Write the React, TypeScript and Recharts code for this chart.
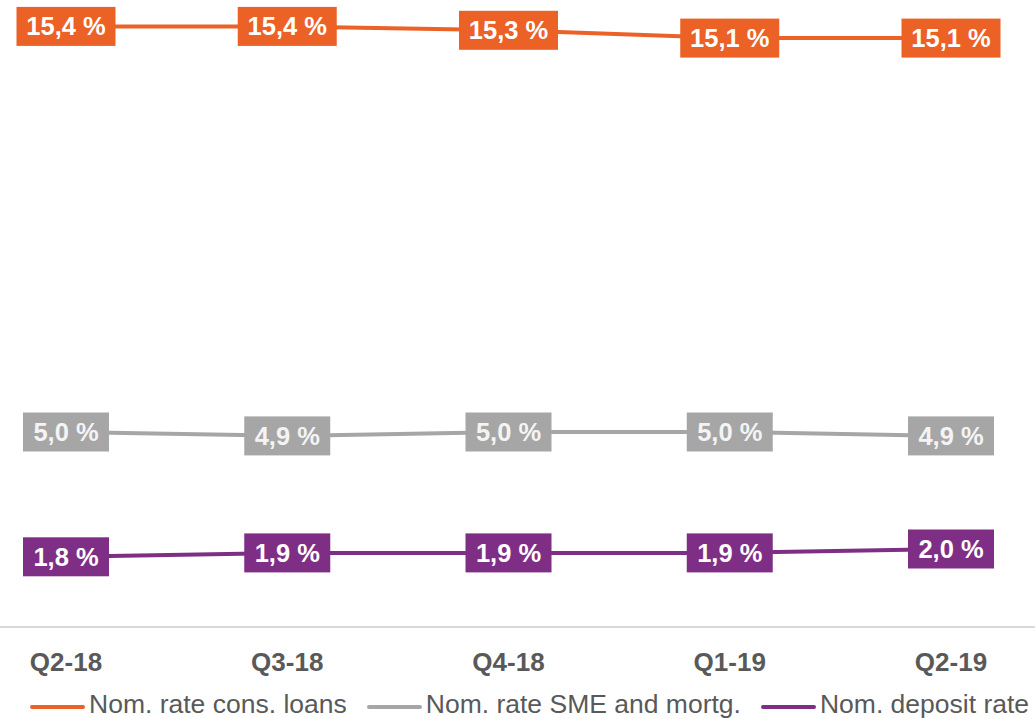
import React from 'react';
import { LineChart, Line, XAxis, YAxis, Legend, LabelList } from 'recharts';

const quarters = ['Q2-18', 'Q3-18', 'Q4-18', 'Q1-19', 'Q2-19'];
const consLoans = [15.4, 15.4, 15.3, 15.1, 15.1];
const smeMortg = [5.0, 4.9, 5.0, 5.0, 4.9];
const depositRate = [1.8, 1.9, 1.9, 1.9, 2.0];

const chartData = quarters.map((q, i) => ({
  quarter: q,
  cons: consLoans[i],
  sme: smeMortg[i],
  deposit: depositRate[i],
}));

const series = [
  { key: 'cons', name: 'Nom. rate cons. loans', color: '#EB6126', text: '#ffffff' },
  { key: 'sme', name: 'Nom. rate SME and mortg.', color: '#A6A6A6', text: '#f4f4f4' },
  { key: 'deposit', name: 'Nom. deposit rate', color: '#7E2F85', text: '#ffffff' },
];

const FONT = '"Liberation Sans", Arial, sans-serif';

const fmt = (v: number) => `${v.toFixed(1).replace('.', ',')} %`;

const makeBoxLabel = (fill: string, textColor: string) => (props: any) => {
  const { x, y, value } = props;
  const text = fmt(Number(value));
  const w = text.length * 13 + 21;
  const h = 39;
  return (
    <g>
      <rect x={x - w / 2} y={y - h / 2} width={w} height={h} fill={fill} />
      <text
        x={x}
        y={y}
        dy={9}
        textAnchor="middle"
        fill={textColor}
        fontSize={25.5}
        fontWeight="bold"
        fontFamily={FONT}
      >
        {text}
      </text>
    </g>
  );
};

const renderLegend = () => (
  <div
    style={{
      display: 'flex',
      alignItems: 'center',
      paddingLeft: 30,
      paddingTop: 8,
      height: 36,
      boxSizing: 'border-box',
      fontFamily: FONT,
      fontSize: 26.5,
      color: '#595959',
      whiteSpace: 'nowrap',
    }}
  >
    {series.map((s) => (
      <div key={s.key} style={{ display: 'flex', alignItems: 'center', marginRight: 20 }}>
        <span
          style={{
            display: 'inline-block',
            width: 55,
            height: 4,
            borderRadius: 2,
            background: s.color,
            marginTop: 6,
            marginRight: 4,
          }}
        />
        <span>{s.name}</span>
      </div>
    ))}
  </div>
);

export default function App() {
  return (
    <div style={{ position: 'absolute', left: 0, top: 0, background: '#fff' }}>
      <LineChart width={1035} height={718} data={chartData} margin={{ top: 3, right: 0, bottom: 0, left: 0 }}>
        <XAxis
          dataKey="quarter"
          axisLine={{ stroke: '#d9d9d9', strokeWidth: 2 }}
          tickLine={false}
          tickMargin={20}
          tick={{ fill: '#595959', fontSize: 26, fontWeight: 'bold', fontFamily: FONT }}
          padding={{ left: 66, right: 84 }}
          height={55}
        />
        <YAxis hide domain={[0, 16]} />
        <Legend verticalAlign="bottom" height={36} content={renderLegend} />
        {series.map((s) => (
          <Line
            key={s.key}
            dataKey={s.key}
            name={s.name}
            stroke={s.color}
            strokeWidth={4}
            dot={false}
            activeDot={false}
            isAnimationActive={false}
          >
            <LabelList dataKey={s.key} content={makeBoxLabel(s.color, s.text)} />
          </Line>
        ))}
      </LineChart>
    </div>
  );
}
